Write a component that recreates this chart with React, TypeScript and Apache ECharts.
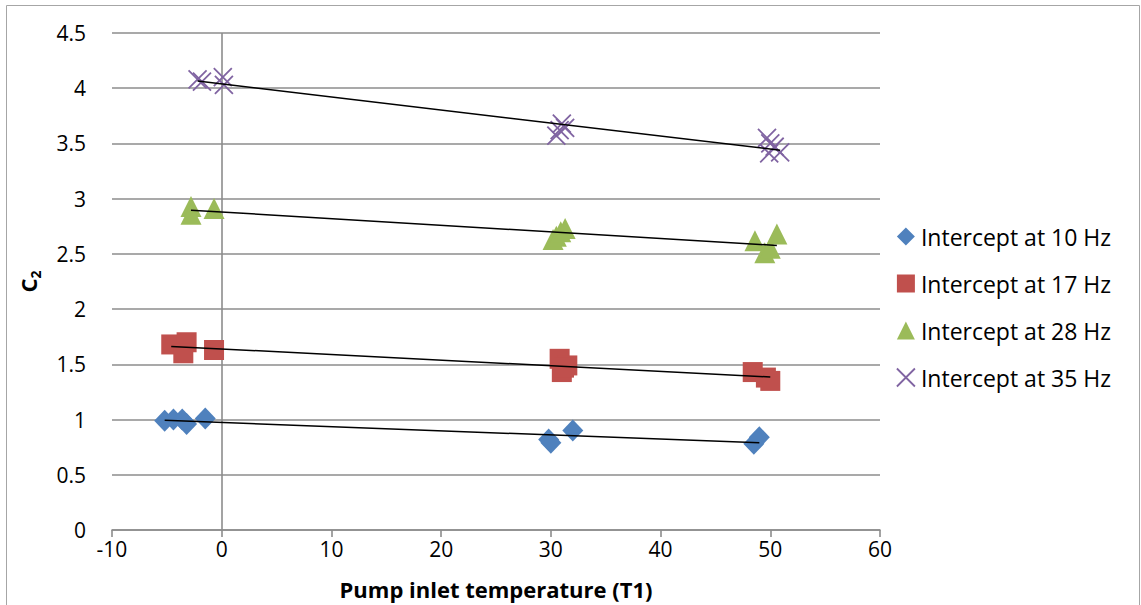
import React, { useEffect, useRef } from "react";
import * as echarts from "echarts";

// Pump inlet temperature (T1) readings and fitted intercept C2 per frequency
const hz10X = [-5.2, -4.4, -3.6, -3.2, -1.5, 29.8, 30.0, 32.0, 48.5, 49.0];
const hz10Y = [0.99, 1.0, 1.0, 0.96, 1.01, 0.82, 0.79, 0.9, 0.78, 0.84];

const hz17X = [-4.6, -3.2, -3.5, -0.7, 30.8, 31.5, 31.0, 31.2, 48.4, 49.6, 50.0];
const hz17Y = [1.68, 1.7, 1.6, 1.63, 1.55, 1.49, 1.43, 1.47, 1.43, 1.38, 1.35];

const hz28X = [-2.8, -2.8, -0.7, 30.2, 30.5, 30.9, 31.3, 48.6, 49.5, 50.0, 50.6];
const hz28Y = [2.93, 2.86, 2.91, 2.63, 2.66, 2.7, 2.73, 2.62, 2.51, 2.55, 2.68];

const hz35X = [-2.2, -1.8, 0.1, 0.2, 30.5, 30.8, 31.0, 31.3, 49.7, 50.0, 50.4, 49.9, 50.9];
const hz35Y = [4.08, 4.06, 4.1, 4.03, 3.57, 3.62, 3.68, 3.64, 3.55, 3.5, 3.47, 3.41, 3.42];

const seriesNames = [
  "Intercept at 10 Hz",
  "Intercept at 17 Hz",
  "Intercept at 28 Hz",
  "Intercept at 35 Hz",
];
const seriesColors = ["#4F81BD", "#C0504D", "#9BBB59", "#8064A2"];

const FONT = "'Open Sans', 'Noto Sans', sans-serif";
const GRID_COLOR = "#8c8c8c";
const CROSS = "path://M0,0L10,10M10,0L0,10";

// Least-squares line over the x-range of a series
function linearFit(xs: number[], ys: number[]): number[][] {
  const n = xs.length;
  const mx = xs.reduce((a, b) => a + b, 0) / n;
  const my = ys.reduce((a, b) => a + b, 0) / n;
  let sxy = 0;
  let sxx = 0;
  for (let i = 0; i < n; i++) {
    sxy += (xs[i] - mx) * (ys[i] - my);
    sxx += (xs[i] - mx) * (xs[i] - mx);
  }
  const slope = sxy / sxx;
  const icpt = my - slope * mx;
  const x0 = Math.min(...xs);
  const x1 = Math.max(...xs);
  return [
    [x0, icpt + slope * x0],
    [x1, icpt + slope * x1],
  ];
}

const zip = (xs: number[], ys: number[]) => xs.map((x, i) => [x, ys[i]]);

export default function App() {
  const ref = useRef<HTMLDivElement>(null);

  useEffect(() => {
    if (!ref.current) return;
    const chart = echarts.init(ref.current, undefined, { renderer: "svg" });

    const groups = [
      { xs: hz10X, ys: hz10Y, symbol: "diamond", size: [21, 22] },
      { xs: hz17X, ys: hz17Y, symbol: "rect", size: 20 },
      { xs: hz28X, ys: hz28Y, symbol: "triangle", size: 21 },
      { xs: hz35X, ys: hz35Y, symbol: CROSS, size: 18 },
    ];

    const scatter = groups.map((g, i) => ({
      name: seriesNames[i],
      type: "scatter",
      symbol: g.symbol,
      symbolSize: g.size,
      data: zip(g.xs, g.ys),
      itemStyle:
        i === 3
          ? { color: "rgba(0,0,0,0)", borderColor: seriesColors[i], borderWidth: 1.8, opacity: 1 }
          : { color: seriesColors[i], opacity: 1 },
      z: 3,
      ...(i === 0
        ? {
            markLine: {
              silent: true,
              symbol: "none",
              label: { show: false },
              lineStyle: { color: GRID_COLOR, width: 1.6, type: "solid" },
              data: [{ xAxis: 0 }],
              z: 1,
            },
          }
        : {}),
    }));

    const trends = groups.map((g) => ({
      type: "line",
      data: linearFit(g.xs, g.ys),
      showSymbol: false,
      symbol: "none",
      lineStyle: { color: "#000", width: 1.5 },
      z: 4,
      silent: true,
    }));

    chart.setOption({
      animation: false,
      backgroundColor: "#fff",
      textStyle: { fontFamily: FONT },
      grid: { left: 112, right: 261, top: 33, bottom: 74 },
      legend: {
        orient: "vertical",
        left: 891,
        top: 220,
        itemWidth: 18,
        itemHeight: 18,
        itemGap: 24,
        data: seriesNames.map((n, i) => ({
          name: n,
          itemStyle:
            i === 3
              ? { color: "rgba(0,0,0,0)", borderColor: seriesColors[i], borderWidth: 1.8 }
              : { color: seriesColors[i], borderWidth: 0 },
        })),
        textStyle: { fontFamily: FONT, fontSize: 23, color: "#000", padding: [0, 0, 0, 1] },
      },
      xAxis: {
        type: "value",
        min: -10,
        max: 60,
        interval: 10,
        name: "Pump inlet temperature (T1)",
        nameLocation: "middle",
        nameGap: 48,
        nameTextStyle: { fontFamily: FONT, fontSize: 22, fontWeight: "bold", color: "#000" },
        axisLine: { show: true, onZero: false, lineStyle: { color: GRID_COLOR, width: 1.6 } },
        axisTick: { show: true, length: 7, lineStyle: { color: GRID_COLOR, width: 1.6 } },
        axisLabel: { fontFamily: FONT, fontSize: 21, color: "#000", margin: 8 },
        splitLine: { show: false },
      },
      yAxis: {
        type: "value",
        min: 0,
        max: 4.5,
        interval: 0.5,
        name: "{c|C}{s|2}",
        nameLocation: "middle",
        nameRotate: 90,
        nameGap: 68,
        nameTextStyle: {
          rich: {
            c: { fontFamily: FONT, fontSize: 22, fontWeight: "bold", color: "#000", lineHeight: 32, verticalAlign: "middle" },
            s: { fontFamily: FONT, fontSize: 14, fontWeight: "bold", color: "#000", lineHeight: 32, verticalAlign: "bottom", padding: [0, 0, 2, 0] },
          },
        },
        axisLine: { show: false },
        axisTick: { show: false },
        axisLabel: { fontFamily: FONT, fontSize: 21, color: "#000", margin: 26 },
        splitLine: { show: true, lineStyle: { color: GRID_COLOR, width: 1.6 } },
      },
      graphic: [
        {
          type: "rect",
          shape: { x: 6.5, y: 5.5, width: 1133, height: 620 },
          style: { fill: "none", stroke: "#a6a6a6", lineWidth: 1 },
          silent: true,
          z: -10,
        },
      ],
      series: [...scatter, ...trends],
    });

    return () => chart.dispose();
  }, []);

  return (
    <div
      ref={ref}
      style={{ position: "absolute", left: 0, top: 0, width: 1141, height: 605 }}
    />
  );
}
